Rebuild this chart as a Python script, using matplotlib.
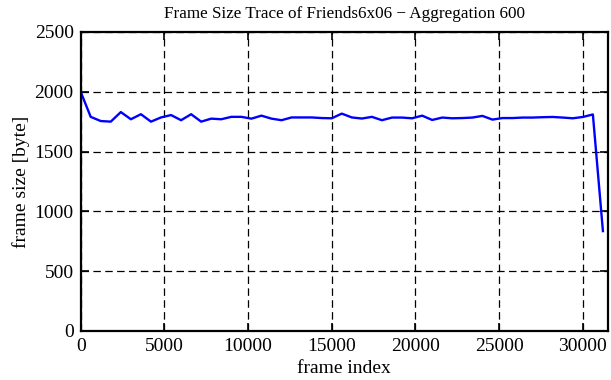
import matplotlib
matplotlib.use('Agg')
import matplotlib.pyplot as plt

# frame index of each aggregated sample (aggregation 600)
frame_index = [0, 600, 1200, 1800, 2400, 3000, 3600, 4200, 4800, 5400,
               6000, 6600, 7200, 7800, 8400, 9000, 9600, 10200, 10800, 11400,
               12000, 12600, 13200, 13800, 14400, 15000, 15600, 16200, 16800, 17400,
               18000, 18600, 19200, 19800, 20400, 21000, 21600, 22200, 22800, 23400,
               24000, 24600, 25200, 25800, 26400, 27000, 27600, 28200, 28800, 29400,
               30000, 30600, 31200]
frame_size = [2000, 1790, 1755, 1750, 1830, 1770, 1812, 1750, 1785, 1805,
              1762, 1812, 1750, 1775, 1770, 1790, 1790, 1775, 1800, 1775,
              1762, 1785, 1785, 1785, 1780, 1778, 1817, 1785, 1776, 1790,
              1762, 1784, 1784, 1778, 1800, 1764, 1784, 1778, 1780, 1784,
              1798, 1767, 1780, 1780, 1784, 1784, 1787, 1789, 1784, 1778,
              1789, 1810, 835]

x_ticks = [0, 5000, 10000, 15000, 20000, 25000, 30000]
y_ticks = [0, 500, 1000, 1500, 2000, 2500]

plt.rcParams['font.family'] = ['Liberation Serif', 'DejaVu Serif']
plt.rcParams['font.size'] = 14

fig = plt.figure(figsize=(6.11, 3.8), dpi=100)
ax = fig.add_axes([0.132, 0.129, 0.863, 0.787])

ax.plot(frame_index, frame_size, color='#0000ff', lw=1.7)

ax.set_xlim(0, 31500)
ax.set_ylim(0, 2500)
ax.set_xticks(x_ticks)
ax.set_yticks(y_ticks)
ax.grid(True, color='black', linestyle=(0, (6, 3.5)), lw=0.9)
ax.tick_params(direction='in', length=6, width=1.2, top=True, right=True, pad=5)
for sp in ax.spines.values():
    sp.set_linewidth(1.6)

ax.set_xlabel('frame index', labelpad=4)
ax.set_ylabel('frame size [byte]', labelpad=3)
ax.set_title('Frame Size Trace of Friends6x06 \u2212 Aggregation 600', fontsize=12.3, pad=10)

fig.savefig('out.png', dpi=100)
